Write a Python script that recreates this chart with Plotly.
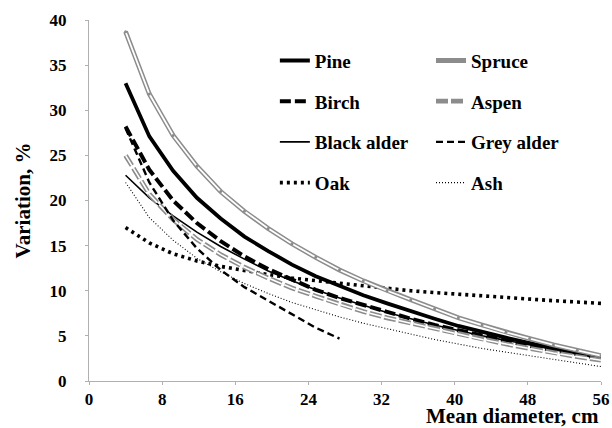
import plotly.graph_objects as go

# Mean stem diameter (cm) at which each curve is evaluated
diameter = [4, 6.6, 9.2, 11.8, 14.4, 17, 19.6, 22.2, 24.8, 27.4, 30,
            32.6, 35.2, 37.8, 40.4, 43, 45.6, 48.2, 50.8, 53.4, 56]

# Variation (%) by tree species
pine = [33.0, 27.1, 23.3, 20.3, 18.0, 16.0, 14.4, 12.9, 11.6, 10.5, 9.5,
        8.6, 7.7, 6.9, 6.1, 5.4, 4.8, 4.2, 3.6, 3.1, 2.6]
spruce = [38.7, 31.8, 27.2, 23.8, 21.0, 18.8, 16.9, 15.2, 13.7, 12.3, 11.1,
          10.0, 9.0, 8.0, 7.0, 6.2, 5.4, 4.7, 4.0, 3.4, 2.8]
birch = [28.2, 23.4, 20.0, 17.5, 15.5, 13.8, 12.4, 11.2, 10.1, 9.2, 8.4,
         7.6, 6.9, 6.2, 5.6, 5.0, 4.4, 3.9, 3.4, 2.9, 2.5]
aspen = [25.0, 20.7, 17.9, 15.7, 14.0, 12.6, 11.4, 10.3, 9.4, 8.5, 7.7,
         7.0, 6.4, 5.8, 5.2, 4.6, 4.1, 3.6, 3.1, 2.7, 2.3]
black_alder = [22.8, 20.3, 18.3, 16.5, 14.9, 13.5, 12.2, 11.1, 10.1, 9.2, 8.4,
               7.6, 6.9, 6.2, 5.6, 5.0, 4.5, 4.0, 3.5, 3.0, 2.6]
grey_alder = [28.0, 22.0, 17.8, 14.7, 12.3, 10.4, 8.9, 7.4, 5.9, 4.7]
oak = [17.0, 15.3, 14.1, 13.3, 12.7, 12.2, 11.8, 11.4, 11.1, 10.8, 10.5,
       10.3, 10.0, 9.8, 9.6, 9.4, 9.2, 9.1, 8.9, 8.75, 8.6]
ash = [22.0, 18.1, 15.6, 13.6, 12.1, 10.8, 9.7, 8.7, 7.9, 7.1, 6.4,
       5.8, 5.2, 4.6, 4.1, 3.6, 3.2, 2.8, 2.4, 2.0, 1.6]

x_ticks = [0, 8, 16, 24, 32, 40, 48, 56]
y_ticks = [0, 5, 10, 15, 20, 25, 30, 35, 40]

SERIF = "Liberation Serif"
GREY = "#8c8c8c"

fig = go.Figure()


def add_line(name, y, color, width, dash="solid", legend="legend", show=True):
    fig.add_trace(go.Scatter(
        x=diameter[:len(y)], y=y, mode="lines", name="<b>%s</b>" % name,
        line=dict(color=color, width=width, dash=dash),
        legend=legend, legendgroup=name, showlegend=show,
        hoverinfo="skip"))


# Left legend column
add_line("Pine", pine, "black", 3.8, legend="legend")
add_line("Birch", birch, "black", 4, dash="11px,4px", legend="legend")
add_line("Black alder", black_alder, "black", 1.6, legend="legend")
add_line("Oak", oak, "black", 3.6, dash="3px,4px", legend="legend")

# Right legend column (double lines: grey stroke with a white core)
add_line("Spruce", spruce, GREY, 4.8, legend="legend2")
fig.add_trace(go.Scatter(
    x=diameter, y=spruce, mode="lines+markers", name="Spruce core",
    line=dict(color="white", width=1.8),
    marker=dict(color=GREY, size=3),
    legend="legend2", legendgroup="Spruce", showlegend=False, hoverinfo="skip"))
add_line("Aspen", aspen, GREY, 4.8, dash="12px,3px", legend="legend2")
add_line("Aspen core", aspen, "white", 1.6, dash="12px,3px", legend="legend2", show=False)
add_line("Grey alder", grey_alder, "black", 2.4, dash="7px,4px", legend="legend2")
add_line("Ash", ash, "black", 1.1, dash="1px,2px", legend="legend2")

legend_style = dict(
    bgcolor="rgba(0,0,0,0)", borderwidth=0,
    itemwidth=30, tracegroupgap=13,
    yanchor="top", xanchor="left", traceorder="grouped",
    font=dict(family=SERIF, size=19, color="black"),
)

axis_common = dict(
    showgrid=False, zeroline=False, showline=True, linecolor="#b0b0b0",
    linewidth=1, ticks="outside", tickcolor="#b0b0b0", ticklen=3,
    automargin=False,
    tickfont=dict(family=SERIF, size=17, color="black"),
)

fig.update_layout(
    template="none",
    width=612, height=428,
    margin=dict(l=89, r=11, t=20, b=47),
    plot_bgcolor="white", paper_bgcolor="white",
    font=dict(family=SERIF, color="black"),
    xaxis=dict(range=[0, 56], tickvals=x_ticks,
               ticktext=["<b>%d</b>" % v for v in x_ticks], **axis_common),
    yaxis=dict(range=[0, 40], tickvals=y_ticks,
               ticktext=["<b>%d</b>" % v for v in y_ticks],
               ticklabelstandoff=15, **axis_common),
    legend=dict(x=0.363, y=0.94, **legend_style),
    legend2=dict(x=0.668, y=0.94, **legend_style),
    annotations=[
        dict(text="<b>Mean diameter, cm</b>", xref="paper", yref="paper",
             x=1.0, y=0, xanchor="right", yanchor="middle", yshift=-35,
             showarrow=False, font=dict(family=SERIF, size=21, color="black")),
        dict(text="<b>Variation, %</b>", xref="paper", yref="paper",
             x=0, y=0.5, xanchor="center", yanchor="middle", xshift=-67,
             textangle=-90, showarrow=False,
             font=dict(family=SERIF, size=21, color="black")),
    ],
)

fig.write_html("out.html")
